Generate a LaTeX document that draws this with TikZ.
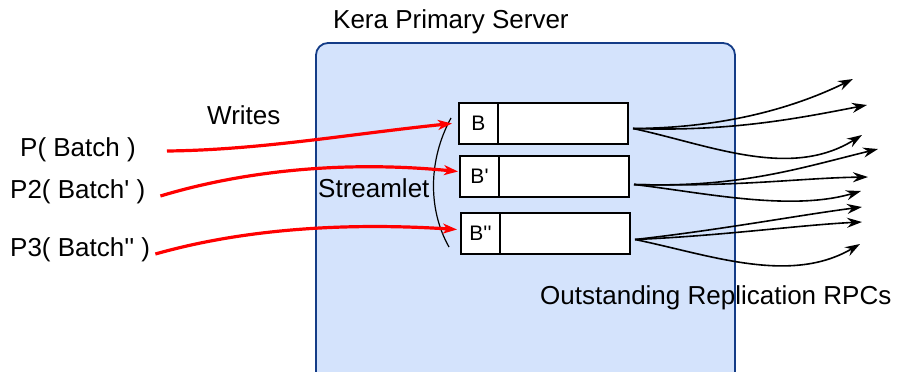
\documentclass[tikz,border=0pt]{standalone}
\usepackage{fontspec}
\setmainfont{Liberation Sans}
\usetikzlibrary{arrows.meta}
\definecolor{srvfill}{RGB}{212,227,252}
\definecolor{srvline}{RGB}{20,60,135}
\newcommand{\sq}{\textquotesingle}
\tikzset{
  lbl/.style={inner sep=0pt, font=\fontsize{26}{30}\selectfont},
  bigbox/.style={draw, line width=2pt, fill=white, minimum width=169pt, minimum height=41pt, inner sep=0pt},
  smallbox/.style={draw, line width=2pt, fill=white, minimum width=39pt, minimum height=41pt, inner sep=0pt, font=\fontsize{21}{24}\selectfont},
  wr/.style={red, line width=3.2pt, -{Stealth[length=14pt,width=10pt,inset=4pt]}},
  rpc/.style={black, line width=1.6pt, -{Stealth[length=15pt,width=10pt,inset=5pt]}}
}
\begin{document}
\begin{tikzpicture}[x=1pt,y=-1pt]
\useasboundingbox (0,0) rectangle (898,372);
\begin{scope}
\clip (0,0) rectangle (898,372);
\draw[srvline, line width=1.8pt, fill=srvfill, rounded corners=12pt] (316,385) -- (316,43) -- (735,43) -- (735,385);
\end{scope}
\node[lbl, anchor=west] (title) at (333,22) {Kera Primary Server};

\node[bigbox, anchor=north west] (b1) at (458,102) {};
\node[bigbox, anchor=north west] (b2) at (459,155) {};
\node[bigbox, anchor=north west] (b3) at (460,212) {};
\node[smallbox, anchor=north west] (s1) at (458,102) {B};
\node[smallbox, anchor=north west] (s2) at (459,155) {B\sq};
\node[smallbox, anchor=north west] (s3) at (460,212) {B\sq\sq};

\coordinate (a1) at (451,118);
\coordinate (a2) at (449,247);
\draw[line width=1.2pt] (a1) .. controls (428,160) and (428,210) .. (a2);
\node[lbl, anchor=west] (stream) at (318,188) {Streamlet};
\node[lbl, anchor=west] (writes) at (207,115) {Writes};

\node[lbl, anchor=west] (p1) at (20,150) {P( Batch )};
\node[lbl, anchor=west] (p2) at (10,192) {P2( Batch\sq\ )};
\node[lbl, anchor=west] (p3) at (10,250) {P3( Batch\sq\sq\ )};

\draw[wr] ([xshift=31pt,yshift=-1pt]p1.east) .. controls (260,150) and (350,134) .. ([xshift=-6pt,yshift=0pt]s1.west);
\draw[wr] ([xshift=15pt,yshift=-4pt]p2.east) .. controls (240,172) and (340,160) .. ([xshift=-1pt,yshift=5pt]s2.west);
\draw[wr] ([xshift=5pt,yshift=-4pt]p3.east) .. controls (240,230) and (340,222) .. ([xshift=-3pt,yshift=4pt]s3.west);

\coordinate (e11) at (853,79);
\coordinate (e12) at (867,105);
\coordinate (e13) at (862,135);
\coordinate (e21) at (878,149);
\coordinate (e22) at (868,177);
\coordinate (e23) at (861,191);
\coordinate (e31) at (862,207);
\coordinate (e32) at (862,222);
\coordinate (e33) at (860,244);
\draw[rpc] ([xshift=4pt,yshift=-5pt]b1.east) .. controls (730,128) and (800,105) .. (e11);
\draw[rpc] ([xshift=4pt,yshift=-5pt]b1.east) .. controls (730,132) and (800,118) .. (e12);
\draw[rpc] ([xshift=4pt,yshift=-5pt]b1.east) .. controls (710,145) and (790,180) .. (e13);
\draw[rpc] ([xshift=4pt,yshift=-8pt]b2.east) .. controls (740,188) and (800,168) .. (e21);
\draw[rpc] ([xshift=4pt,yshift=-8pt]b2.east) .. controls (740,187) and (800,178) .. (e22);
\draw[rpc] ([xshift=4pt,yshift=-8pt]b2.east) .. controls (700,192) and (790,212) .. (e23);
\draw[rpc] ([xshift=4pt,yshift=-6pt]b3.east) .. controls (720,230) and (800,215) .. (e31);
\draw[rpc] ([xshift=4pt,yshift=-6pt]b3.east) .. controls (720,236) and (800,225) .. (e32);
\draw[rpc] ([xshift=4pt,yshift=-6pt]b3.east) .. controls (710,255) and (790,285) .. (e33);

\node[lbl, anchor=west] (out) at (540,298) {Outstanding Replication RPCs};
\end{tikzpicture}
\end{document}
